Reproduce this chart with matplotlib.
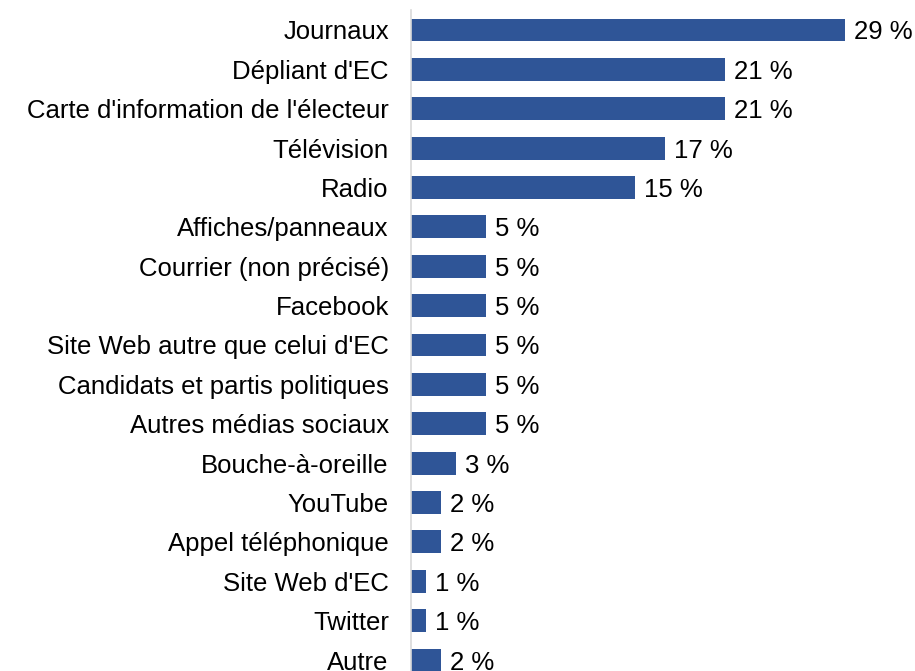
import matplotlib.pyplot as plt

categories = ["Journaux", "Dépliant d'EC", "Carte d'information de l'électeur",
              "Télévision", "Radio", "Affiches/panneaux", "Courrier (non précisé)",
              "Facebook", "Site Web autre que celui d'EC", "Candidats et partis politiques",
              "Autres médias sociaux", "Bouche-à-oreille", "YouTube",
              "Appel téléphonique", "Site Web d'EC", "Twitter", "Autre"]
values = [29, 21, 21, 17, 15, 5, 5, 5, 5, 5, 5, 3, 2, 2, 1, 1, 2]

plt.rcParams['font.family'] = ['Liberation Sans', 'DejaVu Sans']

fig = plt.figure(figsize=(9.15, 6.71), dpi=100)
ax = fig.add_axes([411 / 915, 0, 1 - 411 / 915, 661 / 671])

y = range(len(categories))
ax.barh(y, values, height=0.58, color="#2F5597")

for i, v in enumerate(values):
    ax.text(v + 0.6, i, f"{v} %", va="center_baseline", ha="left", fontsize=18.5)

ax.set_yticks(list(y))
ax.set_yticklabels(categories, fontsize=18.5, va="center_baseline")
ax.tick_params(axis="y", length=0, pad=16)
ax.set_xticks([])
ax.set_xlim(0, 504 / 14.95)
ax.set_ylim((671 - 30) / 39.375, -20 / 39.375)

for s in ["top", "right", "bottom"]:
    ax.spines[s].set_visible(False)
ax.spines["left"].set_color("#D9D9D9")
ax.spines["left"].set_linewidth(1.2)

fig.savefig("out.png", dpi=100)
